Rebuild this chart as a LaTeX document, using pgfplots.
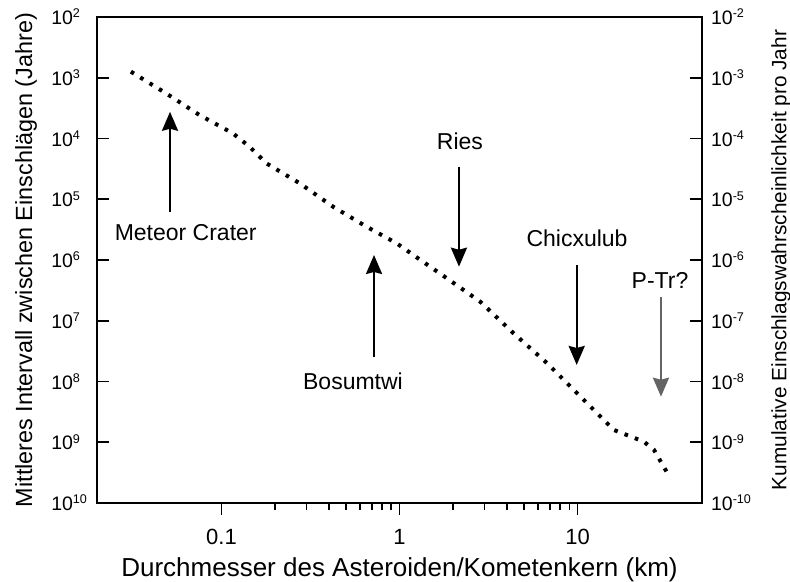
\documentclass[border=0pt]{standalone}
\usepackage{pgfplots}
\pgfplotsset{compat=1.18}
\usepackage{fontspec}
\setmainfont{Liberation Sans}
\usetikzlibrary{arrows.meta}
\newcommand\tp[1]{10\raisebox{3.3pt}{\fontsize{6.3}{7}\selectfont #1}}
\definecolor{arrgray}{RGB}{100,100,100}
\begin{document}
\begin{tikzpicture}
\begin{axis}[
  name=main,
  scale only axis, width=302.5pt, height=243pt,
  xmode=log, ymode=log,
  xmin=0.02, xmax=50, ymin=1e2, ymax=1e10,
  y dir=reverse,
  axis line style={line width=1.1pt},
  xtick={0.1,1,10}, xticklabels={0.1,1,10},
  ytick={1e2,1e3,1e4,1e5,1e6,1e7,1e8,1e9,1e10},
  yticklabels={\tp{2},\tp{3},\tp{4},\tp{5},\tp{6},\tp{7},\tp{8},\tp{9},\tp{10}},
  yminorticks=false,
  xtick pos=left, ytick pos=left,
  xtick align=outside, ytick align=inside,
  major tick length=5.8pt, minor tick length=3.6pt,
  tick style={black, line width=0.9pt},
  xticklabel style={font=\fontsize{11}{12}\selectfont, yshift=-3.8pt},
  yticklabel style={font=\fontsize{9.75}{11}\selectfont, anchor=west, xshift=-26.4pt},
  xlabel={Durchmesser des Asteroiden/Kometenkern (km)},
  xlabel style={font=\fontsize{13}{14}\selectfont, at={(axis description cs:0.5,0)}, anchor=center, yshift=-33.5pt},
  ylabel={Mittleres Intervall zwischen Einschlägen (Jahre)},
  ylabel style={font=\fontsize{11.7}{13}\selectfont, at={([xshift=-35.5pt]axis description cs:0,0.5)}, anchor=center},
]
\addplot[black, line width=2pt, line cap=butt, dash pattern=on 1.8pt off 3.7pt] coordinates {
(0.0310,794) (0.0488,1803) (0.0752,4102) (0.1158,8204) (0.1438,13650)
(0.1786,25590) (0.275,54580) (0.4236,1.327e5) (0.653,2.831e5) (0.964,5.309e5)
(1.196,8.28e5) (1.845,2.0e6) (2.84,4.853e6) (4.376,1.611e7) (6.75,5.01e7)
(10.4,1.778e8) (16.0,6.28e8) (23.6,9.79e8) (26.9,1.343e9) (32.0,3.24e9)
};
\end{axis}
\begin{axis}[
  scale only axis, width=302.5pt, height=243pt,
  xmode=log, ymode=log,
  xmin=0.02, xmax=50, ymin=1e-10, ymax=1e-2,
  axis x line=none, axis y line*=right,
  axis line style={line width=1.1pt},
  ytick={1e-10,1e-9,1e-8,1e-7,1e-6,1e-5,1e-4,1e-3,1e-2},
  yticklabels={\tp{-10},\tp{-9},\tp{-8},\tp{-7},\tp{-6},\tp{-5},\tp{-4},\tp{-3},\tp{-2}},
  yminorticks=false, ytick align=inside, major tick length=6pt,
  tick style={black, line width=0.9pt},
  yticklabel style={font=\fontsize{9.75}{11}\selectfont, xshift=1pt},
  ylabel={Kumulative Einschlagswahrscheinlichkeit pro Jahr},
  ylabel style={font=\fontsize{10.4}{12}\selectfont, at={([xshift=39.5pt]axis description cs:1,0.5)}, anchor=center},
  clip=false,
]
\tikzset{ann/.style={font=\fontsize{11.5}{13}\selectfont},
  arr/.style={line width=1.2pt, -{Stealth[length=9.5pt,width=8pt,inset=1pt]}}}
\draw[arr] (rel axis cs:0.1207,0.599) -- (rel axis cs:0.1207,0.805);
\node[ann] at (rel axis cs:0.1466,0.5556) {Meteor Crater};
\draw[arr] (rel axis cs:0.4579,0.3011) -- (rel axis cs:0.4579,0.5103);
\node[ann] at (rel axis cs:0.4231,0.2496) {Bosumtwi};
\draw[arr] (rel axis cs:0.5983,0.692) -- (rel axis cs:0.5983,0.4862);
\node[ann] at (rel axis cs:0.6,0.7434) {Ries};
\draw[arr] (rel axis cs:0.7929,0.4897) -- (rel axis cs:0.7929,0.284);
\node[ann] at (rel axis cs:0.7934,0.5453) {Chicxulub};
\draw[arr, arrgray] (rel axis cs:0.9322,0.4245) -- (rel axis cs:0.9322,0.2187);
\node[ann] at (rel axis cs:0.9306,0.4588) {P-Tr?};
\coordinate (ll) at (rel axis cs:0,0);
\coordinate (ur) at (rel axis cs:1,1);
\end{axis}
\pgfresetboundingbox
\path[use as bounding box] ([xshift=-48.5pt,yshift=-39.5pt]ll) rectangle ([xshift=44pt,yshift=8.5pt]ur);
\end{tikzpicture}
\end{document}
